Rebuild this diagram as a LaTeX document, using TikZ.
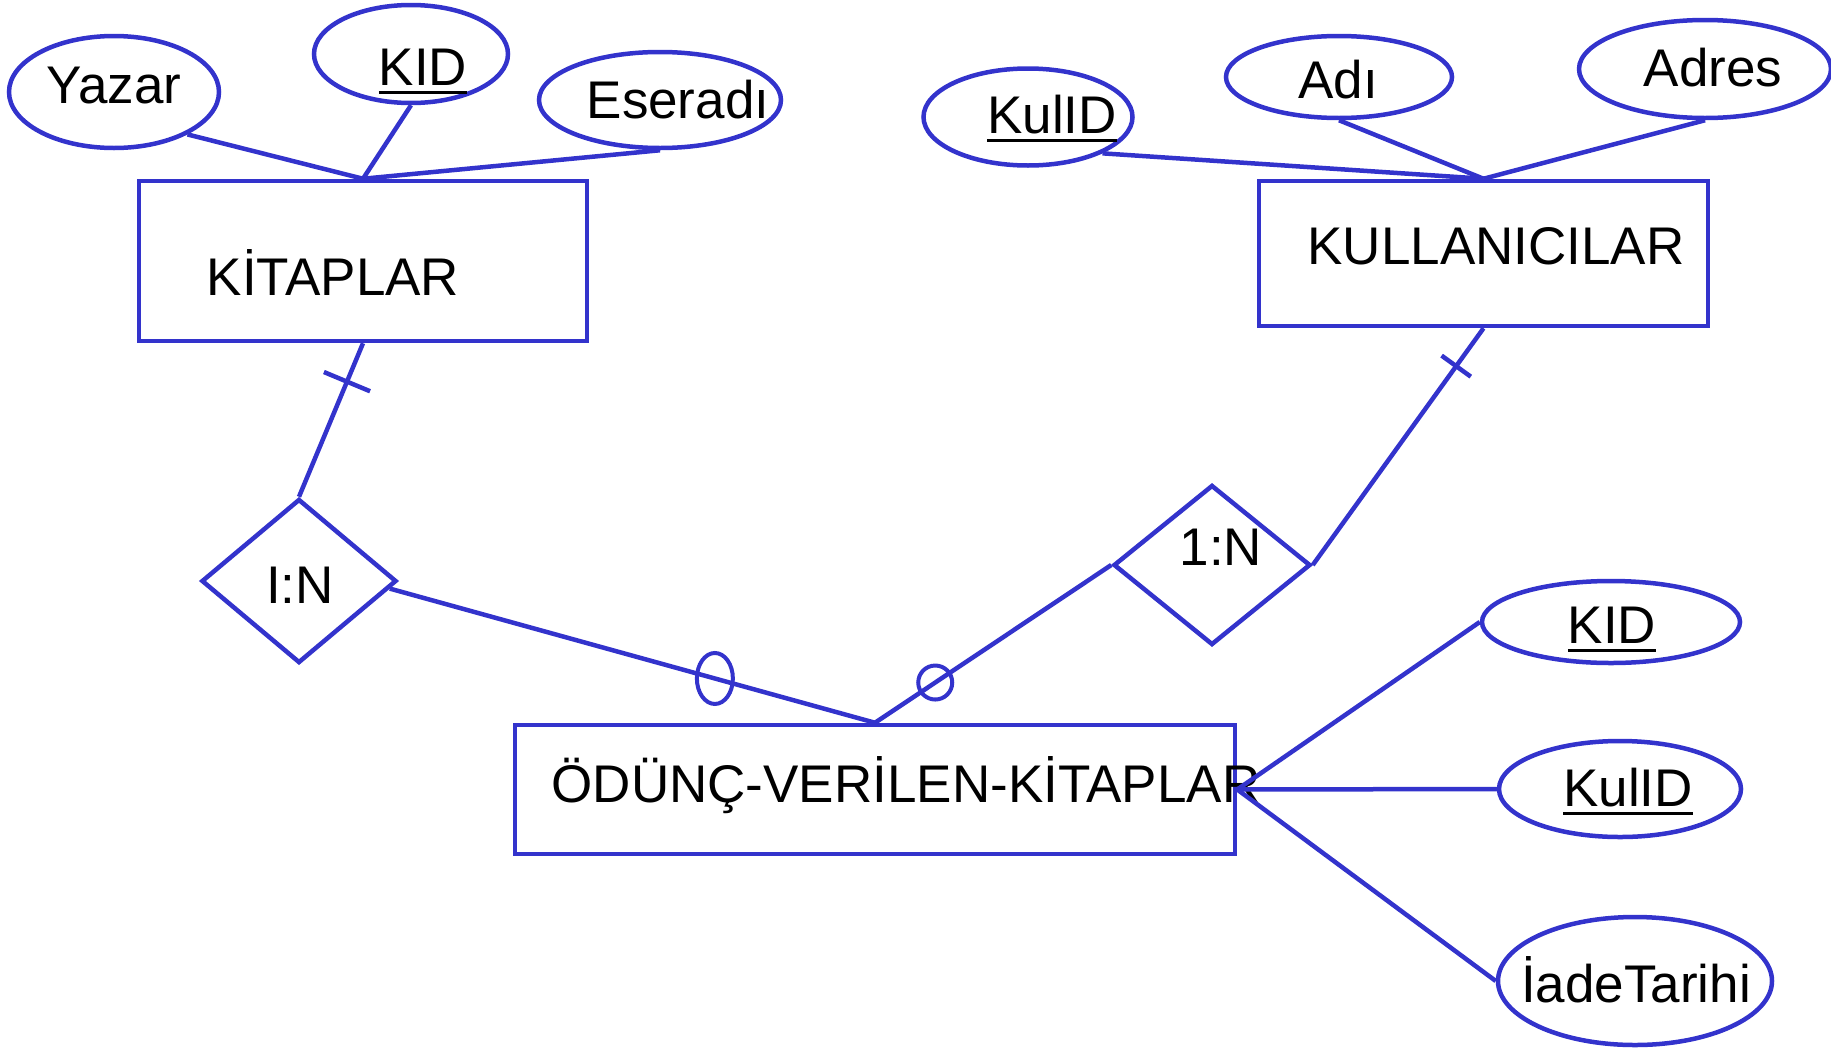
\documentclass[tikz,border=0pt]{standalone}
\usepackage{fontspec}
\setmainfont{Liberation Sans}
\usetikzlibrary{shapes.geometric,calc}
\definecolor{erblue}{RGB}{51,51,204}
\newcommand\myul[1]{\setbox0\hbox{#1}\rlap{\rule[-9pt]{\wd0}{3.5pt}}\box0}
\begin{document}
\begin{tikzpicture}[x=1pt,y=-1pt,
  ent/.style={draw=erblue, line width=4.5pt, rectangle, inner sep=0pt},
  attr/.style={draw=erblue, line width=4.5pt, ellipse, inner sep=0pt},
  rel/.style={draw=erblue, line width=4.5pt, diamond, inner sep=0pt},
  lbl/.style={font=\fontsize{53}{60}\selectfont, text=black, inner sep=0pt, anchor=base},
  conn/.style={draw=erblue, line width=4.5pt},
  tickmark/.style={draw=erblue, line width=4.5pt, inner sep=0pt, outer sep=0pt, minimum width=0pt, minimum height=#1, sloped},
  zeromark/.style={draw=erblue, line width=4pt, ellipse, inner sep=0pt}
]
\useasboundingbox (0,0) rectangle (1831,1047);

% entities
\node[ent, minimum width=448, minimum height=160] (kit) at (363,261) {};
\node[ent, minimum width=449, minimum height=145] (kul) at (1483.5,253.5) {};
\node[ent, minimum width=720, minimum height=129] (odn) at (875,789.5) {};

% attributes
\node[attr, minimum width=210, minimum height=112] (yaz) at (114,92) {};
\node[attr, minimum width=194, minimum height=98] (kid1) at (411,54) {};
\node[attr, minimum width=242, minimum height=96] (ese) at (660,100) {};
\node[attr, minimum width=209, minimum height=97] (kul1) at (1028,117) {};
\node[attr, minimum width=226, minimum height=82] (adi) at (1339,77) {};
\node[attr, minimum width=252, minimum height=98] (adr) at (1705,69) {};
\node[attr, minimum width=258, minimum height=82] (kid2) at (1611,622) {};
\node[attr, minimum width=242, minimum height=96] (kul2) at (1620,789) {};
\node[attr, minimum width=274, minimum height=128] (iad) at (1635,981) {};

% relationships
\node[rel, minimum width=195, minimum height=164] (in) at (299,581) {};
\node[rel, minimum width=197, minimum height=160] (one) at (1212,565) {};
\coordinate (inout) at ($(in.east)!0.09!(in.south)$);

% labels
\node[lbl] (tyaz) at (114,103) {Yazar};
\node[lbl] (tkid1) at (423,85) {\myul{KID}};
\node[lbl] (tese) at (678,118) {Eseradı};
\node[lbl] (tkit) at (333,295) {KİTAPLAR};
\node[lbl] (tkul1) at (1052,133) {\myul{KulID}};
\node[lbl] (tadi) at (1338,98) {Adı};
\node[lbl] (tadr) at (1713,86) {Adres};
\node[lbl] (tkul) at (1496,264) {KULLANICILAR};
\node[lbl] (tin) at (300,603) {I:N};
\node[lbl] (tone) at (1221,565) {1:N};
\node[lbl] (todn) at (906,802) {ÖDÜNÇ-VERİLEN-KİTAPLAR};
\node[lbl] (tkid2) at (1612,643) {\myul{KID}};
\node[lbl] (tkul2) at (1628,806) {\myul{KulID}};
\node[lbl] (tiad) at (1636,1002) {İadeTarihi};

% attribute connectors
\draw[conn] (yaz.-30) -- (kit.north);
\draw[conn] (kid1.south) -- (kit.north);
\draw[conn] (ese.south) -- (kit.north);
\draw[conn] (kul1.-26) -- (kul.north);
\draw[conn] (adi.south) -- (kul.north);
\draw[conn] (adr.south) -- (kul.north);
\draw[conn] (odn.east) -- (kid2.west);
\draw[conn] (odn.east) -- (kul2.west);
\draw[conn] (odn.east) -- (iad.west);

% relationship connectors
\draw[conn] (kit.south) -- node[tickmark=50, pos=0.25] (tk1) {} (in.north);
\draw[conn] (kul.south) -- node[tickmark=36, pos=0.16] (tk2) {} (one.east);
\draw[conn] (inout) -- node[zeromark, pos=0.67, minimum width=36, minimum height=51] (m1) {} (odn.north);
\draw[conn] (one.west) -- node[zeromark, pos=0.745, minimum width=34, minimum height=34] (m2) {} (odn.north);
\end{tikzpicture}
\end{document}
